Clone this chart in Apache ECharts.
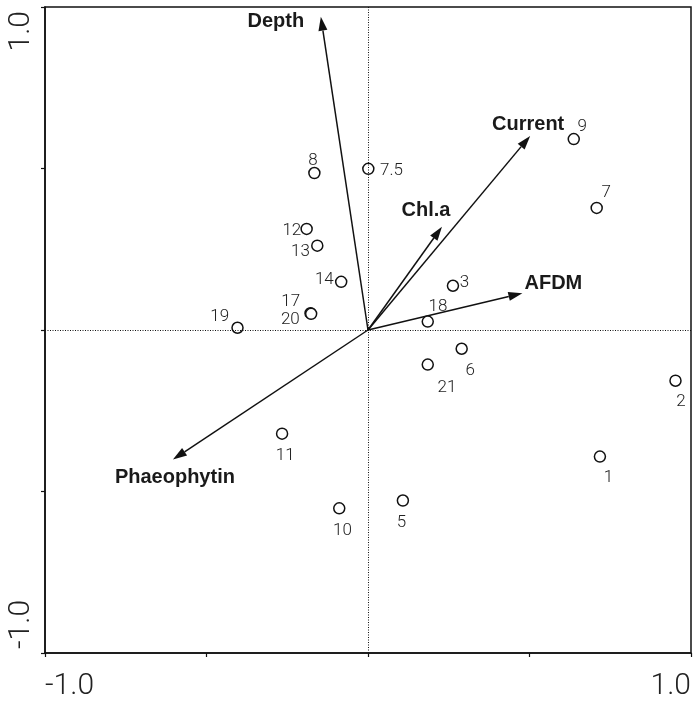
<!DOCTYPE html>
<html>
<head>
<meta charset="utf-8">
<script src="https://cdn.jsdelivr.net/npm/echarts@6/dist/echarts.min.js"></script>
<style>
  html, body { margin: 0; padding: 0; background: #fff; }
  #chart { width: 694px; height: 701px; }
</style>
</head>
<body>
<div id="chart"></div>
<script>
// sitios (puntos)
const siteNames = ["1", "2", "3", "5", "6", "7", "7.5", "8", "9", "10", "11", "12", "13", "14", "17", "18", "19", "20", "21"];
const siteX = [0.718, 0.952, 0.263, 0.108, 0.290, 0.708, 0.001, -0.166, 0.637, -0.089, -0.266, -0.190, -0.157, -0.083, -0.178, 0.185, -0.404, -0.176, 0.185];
const siteY = [-0.392, -0.157, 0.137, -0.528, -0.058, 0.378, 0.499, 0.486, 0.591, -0.552, -0.321, 0.313, 0.261, 0.149, 0.052, 0.026, 0.007, 0.050, -0.107];

// variables ambientales (flechas)
const varNames = ["Depth", "Current", "Chl.a", "AFDM", "Phaeophytin"];
const varX = [-0.146, 0.502, 0.229, 0.478, -0.604];
const varY = [0.970, 0.601, 0.320, 0.114, -0.401];

// etiquetas de ejes
const xTickLabels = ["-1.0", "1.0"];
const yTickLabels = ["-1.0", "1.0"];

// posición de cada etiqueta (px, relativo al punto)
const siteLabelOffset = {
  "1": [10, 19], "2": [7, 19], "3": [13, -5], "5": [0, 20], "6": [10, 20],
  "7": [11, -17], "7.5": [18, 0], "8": [0, -15], "9": [10, -15], "10": [0, 20],
  "11": [0, 20], "12": [-18, 0], "13": [-20, 4], "14": [-20, -4], "17": [-23, -14],
  "18": [7, -17], "19": [-21, -13], "20": [-24, 4], "21": [16, 21]
};
const varLabelOffset = {
  "Depth": [-45, 5], "Current": [-2, -11], "Chl.a": [-16, -16],
  "AFDM": [31, -10], "Phaeophytin": [2, 18]
};

const sites = siteNames.map((n, i) => [siteX[i], siteY[i], n]);
const arrows = varNames.map((n, i) => [0, 0, varX[i], varY[i], n]);

const chart = echarts.init(document.getElementById("chart"));

const thinFont = { fontFamily: "Roboto", fontWeight: 300, color: "#222" };

function ejeX(label, idx, show) {
  return {
    type: "value", min: -1, max: 1, interval: 0.5, position: "bottom",
    axisLine: { show: show, onZero: false, lineStyle: { color: "#111", width: 1.5 } },
    axisTick: { show: show, length: 4, lineStyle: { color: "#111", width: 1.2 } },
    splitLine: { show: false },
    axisLabel: Object.assign({
      fontSize: 30, margin: 18,
      align: idx === 0 ? "left" : "right",
      formatter: (v) => (idx === 0 && v === -1 ? label : idx === 1 && v === 1 ? label : "")
    }, thinFont)
  };
}

function ejeY(label, idx, show) {
  return {
    type: "value", min: -1, max: 1, interval: 0.5, position: "left",
    axisLine: { show: show, onZero: false, lineStyle: { color: "#111", width: 1.5 } },
    axisTick: { show: show, length: 4, lineStyle: { color: "#111", width: 1.2 } },
    splitLine: { show: false },
    axisLabel: Object.assign({
      fontSize: 30, margin: 9, rotate: 90,
      align: idx === 0 ? "left" : "right", verticalAlign: "bottom",
      padding: idx === 0 ? [0, 0, 0, 4] : [0, 4, 0, 0],
      formatter: (v) => (idx === 0 && v === -1 ? label : idx === 1 && v === 1 ? label : "")
    }, thinFont)
  };
}

chart.setOption({
  animation: false,
  backgroundColor: "#fff",
  grid: { left: 45, right: 1, top: 7, bottom: 47, show: true, borderColor: "#111", borderWidth: 1.5 },
  xAxis: [ejeX(xTickLabels[0], 0, true), ejeX(xTickLabels[1], 1, false)],
  yAxis: [ejeY(yTickLabels[0], 0, true), ejeY(yTickLabels[1], 1, false)],
  series: [
    {
      type: "custom",
      xAxisIndex: 0, yAxisIndex: 0,
      data: arrows,
      encode: { x: [0, 2], y: [1, 3] },
      z: 3,
      renderItem: function (params, api) {
        const p0 = api.coord([api.value(0), api.value(1)]);
        const p1 = api.coord([api.value(2), api.value(3)]);
        const ang = Math.atan2(p1[1] - p0[1], p1[0] - p0[0]);
        const len = 14, hw = 4.5;
        const bx = p1[0] - len * Math.cos(ang), by = p1[1] - len * Math.sin(ang);
        const nx = -Math.sin(ang) * hw, ny = Math.cos(ang) * hw;
        const name = varNames[params.dataIndex];
        const off = varLabelOffset[name];
        return {
          type: "group",
          children: [
            { type: "line", shape: { x1: p0[0], y1: p0[1], x2: bx, y2: by }, style: { stroke: "#111", lineWidth: 1.5 } },
            { type: "polygon", shape: { points: [[p1[0], p1[1]], [bx + nx, by + ny], [bx - nx, by - ny]] }, style: { fill: "#111" } },
            {
              type: "text", x: p1[0] + off[0], y: p1[1] + off[1],
              style: {
                text: name, fontFamily: "Liberation Sans", fontWeight: "bold", fontSize: 20,
                fill: "#1a1a1a", align: "center", verticalAlign: "middle"
              }
            }
          ]
        };
      }
    },
    {
      type: "scatter",
      xAxisIndex: 0, yAxisIndex: 0,
      data: sites,
      symbol: "circle",
      symbolSize: 11,
      z: 4,
      itemStyle: { color: "#fff", borderColor: "#111", borderWidth: 1.5, opacity: 1 },
      label: {
        show: true,
        position: "inside",
        formatter: (p) => p.value[2],
        fontSize: 17, fontFamily: "Roboto", fontWeight: 300, color: "#222"
      },
      labelLayout: function (params) {
        const name = sites[params.dataIndex][2];
        const off = siteLabelOffset[name];
        const r = params.rect;
        return { x: r.x + off[0], y: r.y + off[1] };
      },
      markLine: {
        silent: true,
        symbol: "none",
        label: { show: false },
        lineStyle: { color: "#111", width: 1, type: [1, 1.5] },
        data: [{ xAxis: 0 }, { yAxis: 0 }]
      }
    }
  ]
});
</script>
</body>
</html>
